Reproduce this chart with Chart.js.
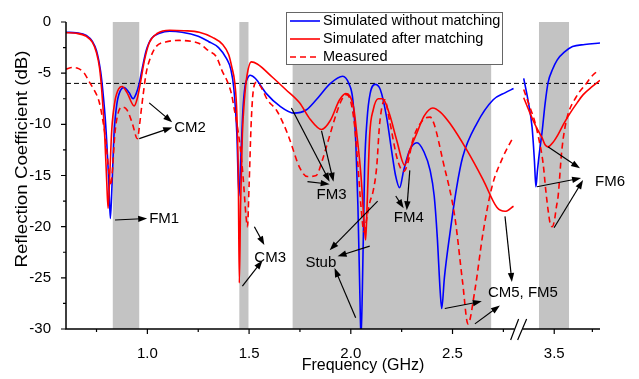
<!DOCTYPE html>
<html lang="en">
  <head>
    <meta charset="UTF-8" />
    <title>Reflection Coefficient</title>
    <style>
      body {
        margin: 0;
        background: #fff;
      }
      #wrap {
        width: 639px;
        height: 379px;
      }
    </style>
  </head>
  <body>
    <div id="wrap"><canvas id="chart" width="639" height="379"></canvas></div>
    <script src="https://cdn.jsdelivr.net/npm/chart.js@4"></script>
    <script>
      // the frequency axis is broken between 2.8 and 3.3 GHz,
      // the right part is drawn at 3/4 of the left scale
      const toAxis = (f) => (f <= 2.8 ? f : 2.85 + (f - 3.3) * 0.75);

      const freqTicks = [1.0, 1.5, 2.0, 2.5, 3.5];
      const freqMinor = [0.75, 1.25, 1.75, 2.25, 2.75, 3.75];
      const dbTicks = [0, -5, -10, -15, -20, -25, -30];
      const dbMinor = [-2.5, -7.5, -12.5, -17.5, -22.5, -27.5];

      const bands = [[0.83, 0.96], [1.452, 1.497], [1.714, 2.69], [3.40, 3.597]];

      const blueF = [0.60, 0.65, 0.70, 0.73, 0.75, 0.77, 0.78, 0.795, 0.81, 0.818, 0.826, 0.836, 0.85, 0.87, 0.886, 0.91, 0.93, 0.945, 0.96, 0.975, 0.994, 1.02, 1.06, 1.11, 1.17, 1.25, 1.30, 1.35, 1.39, 1.41, 1.425, 1.44, 1.45, 1.46, 1.47, 1.48, 1.49, 1.505, 1.53, 1.585, 1.65, 1.72, 1.78, 1.83, 1.90, 1.96, 1.99, 2.01, 2.025, 2.035, 2.045, 2.05, 2.057, 2.068, 2.08, 2.095, 2.12, 2.145, 2.176, 2.20, 2.22, 2.24, 2.26, 2.29, 2.325, 2.36, 2.39, 2.41, 2.425, 2.44, 2.447, 2.46, 2.487, 2.52, 2.55, 2.62, 2.70, 2.76, 2.80,
        3.30, 3.33, 3.355, 3.37, 3.38, 3.39, 3.405, 3.42, 3.44, 3.46, 3.49, 3.52, 3.57, 3.62, 3.70, 3.80];
      const blueDb = [-1.0, -1.05, -1.3, -1.9, -2.8, -4.8, -6.5, -10, -15.5, -19.2, -16, -11, -8, -6.6, -6.4, -6.9, -7.5, -7.0, -6.0, -4.5, -2.8, -1.6, -1.1, -0.9, -1.0, -1.4, -1.9, -2.5, -3.6, -4.6, -6.5, -11, -17, -13, -8.5, -6.3, -5.6, -5.2, -5.5, -7.0, -8.2, -8.9, -8.6, -7.6, -6.0, -5.3, -6.0, -7.6, -12, -18, -27, -31, -26, -14.2, -9.5, -7, -6.1, -6.6, -9.3, -12.5, -15, -16.2, -14.5, -12.5, -11.8, -12.7, -14.5, -17, -21, -26.5, -28, -25, -20.7, -16.2, -13.2, -9.9, -7.6, -6.9, -6.5,
        -5.5, -7.8, -10.3, -13.5, -16.1, -14.5, -12.5, -10.8, -8, -5.9, -4.6, -3.7, -2.9, -2.4, -2.2, -2.05];

      const redF = [0.60, 0.65, 0.70, 0.73, 0.75, 0.765, 0.775, 0.79, 0.80, 0.807, 0.815, 0.825, 0.84, 0.86, 0.876, 0.90, 0.935, 0.95, 0.968, 0.985, 1.01, 1.05, 1.11, 1.18, 1.255, 1.32, 1.37, 1.40, 1.415, 1.43, 1.44, 1.447, 1.452, 1.458, 1.467, 1.477, 1.49, 1.511, 1.54, 1.615, 1.68, 1.748, 1.80, 1.856, 1.90, 1.945, 1.975, 1.994, 2.015, 2.03, 2.05, 2.065, 2.073, 2.08, 2.093, 2.11, 2.135, 2.157, 2.19, 2.225, 2.265, 2.29, 2.324, 2.36, 2.403, 2.44, 2.487, 2.57, 2.65, 2.718, 2.758, 2.80,
        3.30, 3.33, 3.361, 3.39, 3.42, 3.44, 3.46, 3.49, 3.525, 3.56, 3.604, 3.65, 3.69, 3.75, 3.80];
      const redDb = [-1.05, -1.1, -1.4, -2.0, -3.0, -4.5, -6.5, -11, -15.5, -18.2, -15, -10.5, -7.8, -6.5, -6.3, -6.9, -8.2, -7.5, -5.7, -3.8, -2.0, -1.1, -0.8, -0.85, -1.0, -1.5, -2.2, -3.2, -4.4, -6, -9, -15, -25.5, -18, -11, -7.6, -5.2, -3.9, -4.1, -5.4, -6.6, -7.9, -9.5, -10.5, -9.6, -7.6, -7.0, -7.2, -8.5, -11, -15, -19.5, -21.3, -18, -11, -8.6, -7.5, -7.5, -9, -11.5, -14.0, -12.5, -10.9, -9.2, -8.4, -8.8, -9.9, -12.5, -15.4, -18.1, -18.5, -18.0,
        -7.4, -8.5, -9.6, -10.5, -11.3, -12.0, -12.2, -11.8, -11.0, -10.0, -8.9, -7.9, -7.1, -6.3, -5.7];

      const measF = [0.60, 0.63, 0.654, 0.69, 0.713, 0.74, 0.763, 0.78, 0.795, 0.81, 0.82, 0.83, 0.84, 0.855, 0.876, 0.90, 0.926, 0.951, 0.962, 0.97, 0.98, 0.994, 1.015, 1.043, 1.09, 1.157, 1.22, 1.255, 1.30, 1.339, 1.368, 1.393, 1.413, 1.428, 1.443, 1.455, 1.47, 1.485, 1.492, 1.50, 1.51, 1.52, 1.536, 1.56, 1.59, 1.634, 1.67, 1.70, 1.748, 1.787, 1.83, 1.86, 1.88, 1.93, 1.955, 1.98, 2.00, 2.019, 2.035, 2.05, 2.065, 2.08, 2.095, 2.108, 2.127, 2.142, 2.167, 2.19, 2.23, 2.26, 2.28, 2.305, 2.354, 2.39, 2.41, 2.452, 2.511, 2.55, 2.576, 2.61, 2.65, 2.694, 2.748, 2.80,
        3.30, 3.34, 3.37, 3.40, 3.427, 3.445, 3.46, 3.475, 3.487, 3.50, 3.515, 3.525, 3.55, 3.58, 3.645, 3.70, 3.767, 3.80];
      const measDb = [-4.6, -4.45, -4.5, -5.0, -5.8, -6.7, -7.8, -9.5, -11.5, -14.5, -16, -14, -11, -9, -8.3, -8.6, -9.9, -11.4, -10, -8.6, -7, -5.0, -3.5, -2.4, -1.95, -1.8, -1.9, -2.1, -2.8, -3.4, -4.8, -5.8, -7.0, -8.6, -10.3, -12, -15, -19, -20, -16, -10, -6.8, -5.9, -6.4, -7.6, -8.6, -10, -11.5, -14.2, -15.1, -15.0, -13.5, -12.2, -8.9, -7.6, -7.1, -7.8, -10.2, -14, -18, -20.5, -19, -17.5, -16.7, -14.2, -9.9, -7.6, -9.6, -13.5, -14.6, -13.8, -11.5, -9.6, -9.3, -10, -13.5, -19.0, -25.5, -29.5, -26.2, -20.6, -16.1, -13.2, -11.2,
        -6.6, -8.3, -9.6, -11.5, -13.8, -16.5, -18.4, -19.8, -20, -19.5, -18, -17.1, -12.5, -9.6, -7.3, -6.2, -5.0, -4.8];

      const seriesNames = ["Simulated without matching", "Simulated after matching", "Measured"];

      const notes = [
        { text: "CM2", f: 1.132, db: -10.3 },
        { text: "FM1", f: 1.009, db: -19.2 },
        { text: "CM3", f: 1.526, db: -23.0 },
        { text: "FM3", f: 1.832, db: -16.9 },
        { text: "Stub", f: 1.777, db: -23.5 },
        { text: "FM4", f: 2.211, db: -19.1 },
        { text: "CM5, FM5", f: 2.674, db: -26.5 },
        { text: "FM6", f: 3.768, db: -15.6 },
      ];
      // arrows: [fromF, fromDb, toF, toDb]
      const arrows = [
        [1.009, -7.9, 1.122, -9.8],
        [0.96, -11.4, 1.122, -10.3],
        [0.841, -19.35, 0.999, -19.2],
        [1.526, -20.0, 1.575, -21.8],
        [1.467, -25.8, 1.566, -23.3],
        [1.708, -8.4, 1.896, -15.6],
        [1.856, -10.65, 1.915, -15.6],
        [1.787, -15.6, 1.896, -15.85],
        [2.132, -17.5, 1.896, -22.3],
        [2.093, -21.9, 1.935, -22.9],
        [2.024, -28.9, 1.92, -24.05],
        [2.221, -17.0, 2.26, -18.2],
        [2.29, -14.5, 2.275, -18.4],
        [2.462, -28.0, 2.644, -27.3],
        [2.61, -29.5, 2.733, -27.7],
        [2.758, -19.0, 2.792, -25.4],
        [3.459, -12.2, 3.669, -14.3],
        [3.387, -16.1, 3.676, -15.25],
        [3.499, -20.1, 3.689, -15.45],
      ];

      const FONT = "'Liberation Sans', Arial, sans-serif";

      function points(fs, dbs) {
        const out = [];
        fs.forEach((f, i) => {
          if (i > 0 && fs[i - 1] <= 2.8 && f >= 3.3) out.push({ x: toAxis(3.0), y: null });
          out.push({ x: toAxis(f), y: dbs[i] });
        });
        return out;
      }

      const decor = {
        id: "decor",
        beforeDatasetsDraw(chart) {
          const { ctx, scales } = chart;
          const x = scales.x, y = scales.y;
          ctx.save();
          ctx.fillStyle = "#c3c3c3";
          bands.forEach(([a, b]) => {
            const x0 = x.getPixelForValue(toAxis(a));
            const x1 = x.getPixelForValue(toAxis(b));
            ctx.fillRect(x0, y.getPixelForValue(0), x1 - x0, y.getPixelForValue(-30) - y.getPixelForValue(0));
          });
          ctx.restore();
        },
        afterDatasetsDraw(chart) {
          const { ctx, scales, chartArea } = chart;
          const x = scales.x, y = scales.y;
          const px = (f) => x.getPixelForValue(toAxis(f));
          const py = (d) => y.getPixelForValue(d);
          ctx.save();

          // axes and tick marks
          ctx.strokeStyle = "#000";
          ctx.lineWidth = 1.5;
          ctx.beginPath();
          ctx.moveTo(chartArea.left, chartArea.top);
          ctx.lineTo(chartArea.left, chartArea.bottom);
          ctx.lineTo(chartArea.right, chartArea.bottom);
          ctx.stroke();
          ctx.lineWidth = 1.2;
          ctx.beginPath();
          freqTicks.forEach((f) => { ctx.moveTo(px(f), chartArea.bottom); ctx.lineTo(px(f), chartArea.bottom + 5); });
          freqMinor.forEach((f) => { ctx.moveTo(px(f), chartArea.bottom); ctx.lineTo(px(f), chartArea.bottom + 3); });
          dbTicks.forEach((d) => { ctx.moveTo(chartArea.left, py(d)); ctx.lineTo(chartArea.left - 5, py(d)); });
          dbMinor.forEach((d) => { ctx.moveTo(chartArea.left, py(d)); ctx.lineTo(chartArea.left - 3, py(d)); });
          ctx.stroke();

          // axis break mark
          const bx = x.getPixelForValue(2.825);
          const by = chartArea.bottom;
          ctx.fillStyle = "#fff";
          ctx.fillRect(bx - 4, by - 2, 8, 4);
          ctx.beginPath();
          ctx.moveTo(bx - 8, by + 11); ctx.lineTo(bx, by - 10);
          ctx.moveTo(bx - 1, by + 11); ctx.lineTo(bx + 8, by - 10);
          ctx.stroke();

          // axis titles
          ctx.fillStyle = "#000";
          ctx.font = "16px " + FONT;
          ctx.textAlign = "center";
          ctx.textBaseline = "middle";
          ctx.fillText("Frequency (GHz)", 363, 366);
          ctx.save();
          ctx.translate(23, 159);
          ctx.scale(1, 1.17);
          ctx.rotate(-Math.PI / 2);
          ctx.fillText("Reflection Coefficient (dB)", 0, 0);
          ctx.restore();

          // annotations
          ctx.font = "15px " + FONT;
          ctx.textAlign = "left";
          notes.forEach((n) => ctx.fillText(n.text, px(n.f), py(n.db)));
          ctx.lineWidth = 1.2;
          arrows.forEach(([f0, d0, f1, d1]) => {
            const x0 = px(f0), y0 = py(d0), x1 = px(f1), y1 = py(d1);
            const a = Math.atan2(y1 - y0, x1 - x0);
            ctx.beginPath();
            ctx.moveTo(x0, y0);
            ctx.lineTo(x1 - 6 * Math.cos(a), y1 - 6 * Math.sin(a));
            ctx.stroke();
            ctx.beginPath();
            ctx.moveTo(x1, y1);
            ctx.lineTo(x1 - 9 * Math.cos(a) + 3.2 * Math.sin(a), y1 - 9 * Math.sin(a) - 3.2 * Math.cos(a));
            ctx.lineTo(x1 - 9 * Math.cos(a) - 3.2 * Math.sin(a), y1 - 9 * Math.sin(a) + 3.2 * Math.cos(a));
            ctx.closePath();
            ctx.fill();
          });

          // legend
          const lx = 286, ly = 12, lw = 216, lh = 52;
          ctx.fillStyle = "#fff";
          ctx.fillRect(lx, ly, lw, lh);
          ctx.strokeStyle = "#666";
          ctx.lineWidth = 1;
          ctx.strokeRect(lx + 0.5, ly + 0.5, lw, lh);
          ctx.font = "14.5px " + FONT;
          ctx.fillStyle = "#000";
          chart.data.datasets.slice(0, 3).reverse().forEach((ds, i) => {
            const yy = 21 + i * 18;
            ctx.strokeStyle = ds.borderColor;
            ctx.lineWidth = 1.6;
            ctx.setLineDash(ds.borderDash || []);
            ctx.beginPath();
            ctx.moveTo(290, yy);
            ctx.lineTo(320, yy);
            ctx.stroke();
            ctx.setLineDash([]);
            ctx.fillText(ds.label, 323, yy);
          });
          ctx.restore();
        },
      };

      new Chart(document.getElementById("chart"), {
        type: "line",
        data: {
          datasets: [
            { label: seriesNames[2], data: points(measF, measDb), borderColor: "#ff0000", borderDash: [6, 4], borderWidth: 1.6 },
            { label: seriesNames[1], data: points(redF, redDb), borderColor: "#ff0000", borderWidth: 1.6 },
            { label: seriesNames[0], data: points(blueF, blueDb), borderColor: "#0000ff", borderWidth: 1.6 },
            { label: "-6 dB", data: [{ x: toAxis(0.6), y: -6 }, { x: toAxis(3.8), y: -6 }], borderColor: "#000", borderDash: [5, 3], borderWidth: 1 },
          ],
        },
        options: {
          responsive: false,
          animation: false,
          spanGaps: false,
          elements: {
            point: { radius: 0 },
            line: { cubicInterpolationMode: "monotone", fill: false },
          },
          layout: { padding: { top: 22, right: 39, left: 0, bottom: 0 } },
          plugins: { legend: { display: false }, tooltip: { enabled: false } },
          scales: {
            x: {
              type: "linear",
              min: toAxis(0.6),
              max: toAxis(3.8),
              grid: { display: false },
              border: { display: false },
              afterBuildTicks: (s) => { s.ticks = freqTicks.map((f) => ({ value: toAxis(f) })); },
              afterFit: (s) => { s.height = 50; },
              ticks: {
                autoSkip: false,
                maxRotation: 0,
                padding: 8,
                color: "#000",
                font: { family: FONT, size: 15 },
                callback: (v, i) => freqTicks[i].toFixed(1),
              },
            },
            y: {
              min: -30,
              max: 0,
              grid: { display: false },
              border: { display: false },
              afterBuildTicks: (s) => { s.ticks = dbTicks.map((d) => ({ value: d })); },
              afterFit: (s) => { s.width = 66; },
              ticks: {
                padding: 7,
                color: "#000",
                font: { family: FONT, size: 15 },
                callback: (v) => String(v),
              },
            },
          },
        },
        plugins: [decor],
      });
    </script>
  </body>
</html>
